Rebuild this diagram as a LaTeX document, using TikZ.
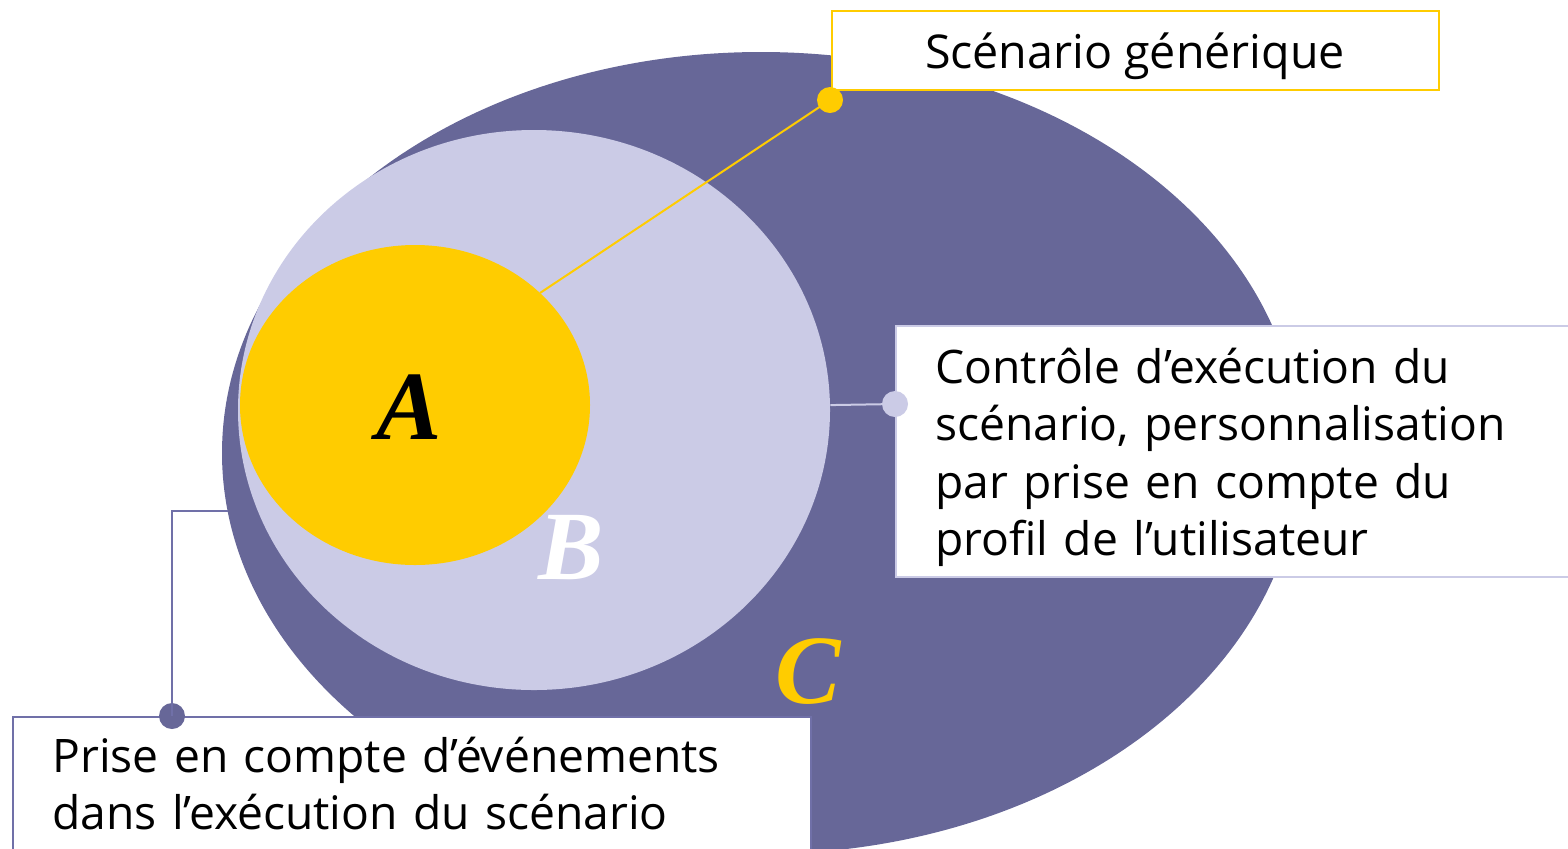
\documentclass[tikz,border=0pt]{standalone}
\usepackage{fontspec}
\setmainfont{Open Sans}
\newfontfamily\letterfont{Liberation Serif}
\usetikzlibrary{shapes.geometric}
\definecolor{cpurple}{HTML}{676798}
\definecolor{blav}{HTML}{CBCBE6}
\definecolor{ayel}{HTML}{FFCC00}
\definecolor{lineP}{HTML}{7070A8}
\begin{document}
\begin{tikzpicture}[x=0.5pt,y=-0.5pt,
  blob/.style={ellipse, inner sep=0pt, draw=none},
  letter/.style={font=\letterfont\bfseries\itshape\fontsize{49}{49}\selectfont, inner sep=0pt, anchor=base},
  dotnode/.style={circle, inner sep=0pt, minimum size=13pt},
  box/.style={fill=white, line width=1pt, rectangle, inner sep=0pt},
  txt/.style={font=\fontsize{23.1}{28.75}\selectfont, inner sep=0pt, anchor=base west, align=left, text width=400pt}]
\clip (0,0) rectangle (1568,848);
% ellipses
\node[blob, fill=cpurple, minimum width=539pt, minimum height=401pt] (C) at (761,453) {};
\node[blob, fill=blav, minimum width=296pt, minimum height=280pt] (B) at (534,410) {};
\coordinate (aend) at (540,293);
\coordinate (cL) at (228,511);
% boxes
\node[box, draw=ayel, anchor=north west, minimum width=303.5pt, minimum height=39.5pt] (topbox) at (831,10) {};
\node[box, draw=blav, anchor=north west, minimum width=360pt, minimum height=125.5pt] (rightbox) at (895,325) {};
\node[box, draw=lineP, anchor=north west, minimum width=399pt, minimum height=100pt] (botbox) at (12,716) {};
% dots
\node[dotnode, fill=ayel] (ydot) at (830,100) {};
\node[dotnode, fill=blav] (rdot) at (895,404) {};
\node[dotnode, fill=cpurple] (pdot) at (172,716) {};
% connectors
\draw[ayel, line width=1pt] (ydot.center) -- (aend);
\draw[blav, line width=1pt] (rdot.center) -- (B);
\draw[lineP, line width=1pt] (pdot.center) |- (cL);
\node[blob, fill=ayel, minimum width=175pt, minimum height=160pt] (A) at (415,405) {};
% letters
\node[letter, text=black] (la) at (409,439) {A};
\node[letter, text=white] (lb) at (571,579) {B};
\node[letter, text=ayel] (lc) at (808,703) {C};
% texts
\node[font=\fontsize{23.3}{28.75}\selectfont, inner sep=0pt, anchor=base] (t1) at (1135,68) {Scénario générique};
\node[txt] (t2) at (935,383) {Contrôle d’exécution du\\scénario, personnalisation\\par prise en compte du\\profil de l’utilisateur};
\node[txt] (t3) at (52,772) {Prise en compte d’événements\\dans l’exécution du scénario};
\end{tikzpicture}
\end{document}
